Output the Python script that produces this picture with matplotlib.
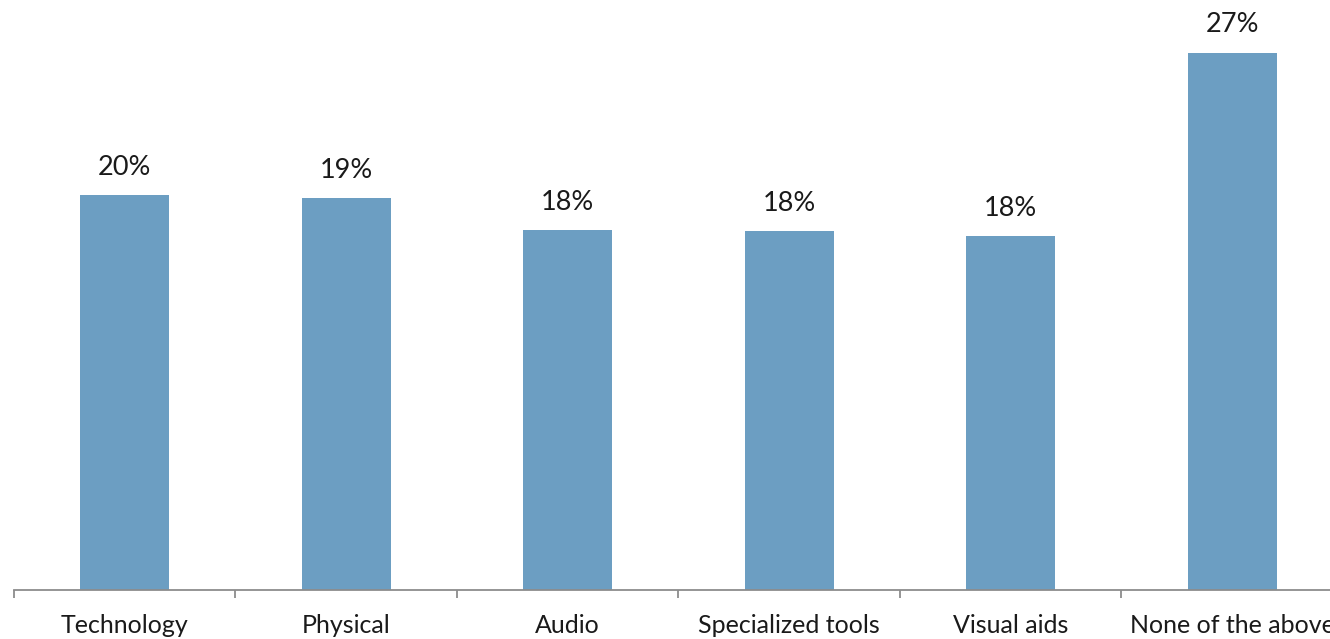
import matplotlib
matplotlib.use("Agg")
import matplotlib.pyplot as plt
import numpy as np

categories = ["Technology", "Physical", "Audio", "Specialized tools", "Visual aids", "None of the above"]
shares = [19.6, 19.45, 17.85, 17.8, 17.55, 26.65]  # percent of respondents

bar_color = "#6C9EC2"
axis_color = "#8C8C8C"
font = ["Lato", "DejaVu Sans"]

W, H = 1330, 639
fig = plt.figure(figsize=(W / 100, H / 100), dpi=100)
# plot area: left edge at x=14 px, baseline at y=590 px; extends past right border
ax = fig.add_axes([14 / W, (H - 590) / H, 1329 / W, 590 / H])

x = np.arange(len(categories))
ax.bar(x, shares, width=0.4, color=bar_color, zorder=2)

px_per_pct = 20.16
ax.set_ylim(0, 590 / px_per_pct)
ax.set_xlim(-0.5, len(categories) - 0.5)

for xi, v in zip(x, shares):
    ax.annotate(f"{v:.0f}%", (xi, v), xytext=(0, 11), textcoords="offset points",
                ha="center", va="bottom", fontsize=19.5, family=font, color="#1a1a1a")

for side in ["top", "right", "left"]:
    ax.spines[side].set_visible(False)
ax.spines["bottom"].set_color(axis_color)
ax.spines["bottom"].set_linewidth(1.3)
ax.yaxis.set_visible(False)

ax.set_xticks(x)
ax.set_xticklabels(categories, family=font, fontsize=18, color="#1a1a1a")
ax.tick_params(axis="x", which="major", length=0, pad=17)
ax.set_xticks(np.arange(-0.5, len(categories) + 0.5, 1), minor=True)
ax.tick_params(axis="x", which="minor", length=6, width=1.3, color=axis_color)

fig.savefig("out.png", dpi=100)
